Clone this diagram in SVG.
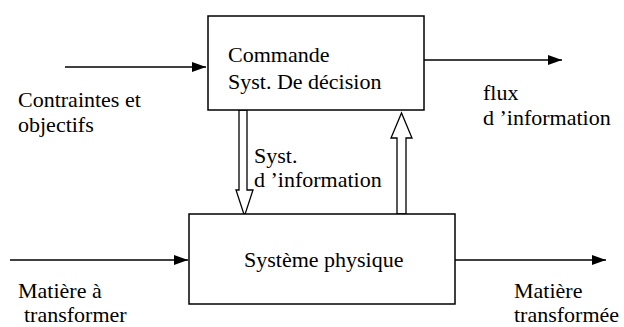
<svg xmlns="http://www.w3.org/2000/svg" width="624" height="327" viewBox="0 0 624 327">
<defs>
<style>
.box{fill:#fff;stroke:#000;stroke-width:1.5}
.ln{stroke:#000;stroke-width:1.5;fill:none}
.hollow{fill:#fff;stroke:#000;stroke-width:1.3}
.t{font-family:'Liberation Serif','Times New Roman','DejaVu Serif',serif;font-size:22px;fill:#000}
</style>
<marker id="ah" viewBox="0 0 14 10" refX="14" refY="5" markerWidth="14" markerHeight="10" markerUnits="userSpaceOnUse" orient="auto">
<path d="M0,0 L14,5 L0,10 Z" fill="#000"/>
</marker>
</defs>
<rect width="624" height="327" fill="#fff"/>
<g id="connectors">
<line class="ln" x1="65" y1="67" x2="206" y2="67" marker-end="url(#ah)"/>
<line class="ln" x1="424" y1="60" x2="562" y2="60" marker-end="url(#ah)"/>
<line class="ln" x1="10" y1="260" x2="188" y2="260" marker-end="url(#ah)"/>
<line class="ln" x1="455" y1="260" x2="606" y2="260" marker-end="url(#ah)"/>
<path class="hollow" d="M239,110 L247,110 L247,190 L253,190 L244.5,216 L236,190 L239,190 Z"/>
<path class="hollow" d="M397,214 L406,214 L406,138 L412,138 L401.5,113 L391,138 L397,138 Z"/>
</g>
<g id="commande" class="t" font-family="Liberation Serif, serif">
<rect class="box" x="208" y="16" width="216" height="94"/>
<text x="228" y="62">Commande</text>
<text x="228" y="89">Syst. De décision</text>
</g>
<g id="systeme" class="t" font-family="Liberation Serif, serif">
<rect class="box" x="189" y="214" width="266" height="90"/>
<text x="244" y="267">Système physique</text>
</g>
<g id="labels" class="t" font-family="Liberation Serif, serif">
<text x="18" y="107">Contraintes et</text>
<text x="18" y="132">objectifs</text>
<text x="254" y="163">Syst.</text>
<text x="254" y="187">d ’information</text>
<text x="483" y="100">flux</text>
<text x="483" y="125">d ’information</text>
<text x="18" y="298">Matière à</text>
<text x="24" y="322">transformer</text>
<text x="514" y="298">Matière</text>
<text x="514" y="322">transformée</text>
</g>
</svg>
